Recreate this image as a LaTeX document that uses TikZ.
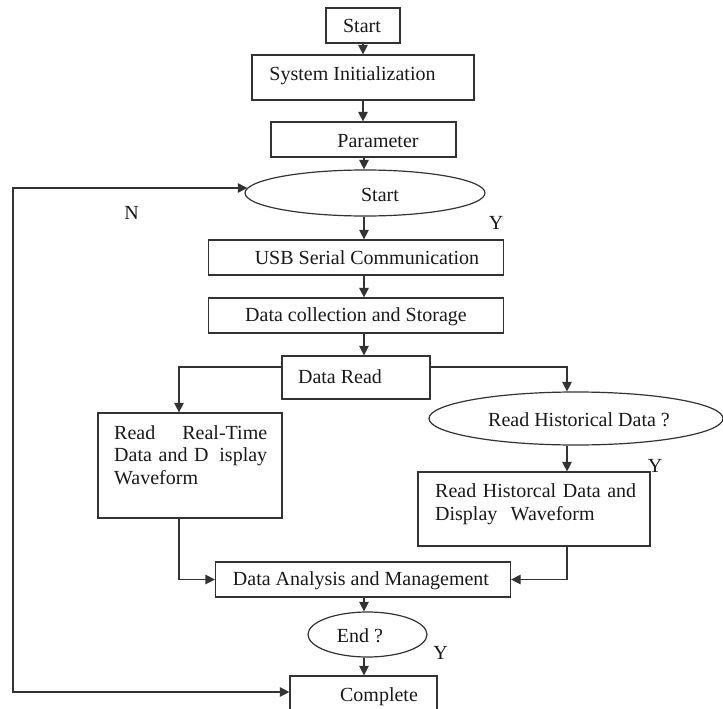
\documentclass[tikz,border=0pt]{standalone}
\usepackage{fontspec}
\setmainfont{Liberation Serif}
\usetikzlibrary{shapes.geometric,arrows.meta}
\begin{document}
\begin{tikzpicture}[x=1pt,y=-1pt,
  box/.style={draw=black!80, line width=1.2pt, inner sep=0pt},
  oval/.style={ellipse, draw=black!80, line width=1.2pt, inner sep=0pt},
  txt/.style={inner sep=0pt, font=\fontsize{20}{22.5}\selectfont, text=black!90},
  tip/.style={-{Triangle[length=9.5pt,width=9.5pt]}},
  conn/.style={line width=1.2pt, draw=black!80, tip}]
\path[use as bounding box] (0,0) rectangle (723,709);
\clip (0,0) rectangle (723,709);

% boxes and ellipses
\node[box, minimum width=74, minimum height=35] (start) at (363,25.5) {};
\node[box, minimum width=222, minimum height=45] (init) at (363,77.5) {};
\node[box, minimum width=185, minimum height=35] (param) at (363.5,139.5) {};
\node[oval, minimum width=240, minimum height=46] (start2) at (365,193) {};
\node[box, minimum width=295, minimum height=35] (usb) at (356,257.5) {};
\node[box, minimum width=295, minimum height=35] (coll) at (356,315.5) {};
\node[box, minimum width=148, minimum height=43] (read) at (356,377.5) {};
\node[box, minimum width=184, minimum height=105] (rt) at (190,465.5) {};
\node[oval, minimum width=294, minimum height=53] (hist) at (576,418.5) {};
\node[box, minimum width=232, minimum height=74] (hb) at (534,509) {};
\node[box, minimum width=295, minimum height=35] (ana) at (363,579.5) {};
\node[oval, minimum width=119, minimum height=45] (endq) at (367.5,634.5) {};
\node[box, minimum width=147, minimum height=44] (done) at (363.5,698) {};

% texts
\node[txt] (startT) at (362,26) {Start};
\node[txt] (initT) at (352.5,76) {System Initialization};
\node[txt] (paramT) at (378,141) {Parameter};
\node[txt] (start2T) at (380,195) {Start};
\node[txt] (usbT) at (367,258) {USB Serial Communication};
\node[txt] (collT) at (356,317) {Data collection and Storage};
\node[txt] (readT) at (340,376.5) {Data Read};
\node[txt, text width=153, align=left, anchor=north west] (rtT) at (114,425)
  {Read\hfill Real-Time\\Data and D\hfill isplay\\Waveform};
\node[txt] (histT) at (579,419.5) {Read Historical Data ?};
\node[txt, text width=215, align=left, anchor=north west] (hbT) at (435,483.5)
  {Read Historcal Data and\\Display\ \ Waveform};
\node[txt] (anaT) at (361,580.5) {Data Analysis and Management};
\node[txt] (endT) at (360,635.5) {End ?};
\node[txt] (doneT) at (379,697) {Complete};

\node[txt] (labN) at (131.5,212.5) {N};
\node[txt] (labY1) at (496,223) {Y};
\node[txt] (labY2) at (655,466) {Y};
\node[txt] (labY3) at (440.5,653) {Y};

% connectors
\draw[conn] (start.south) -- (start.south |- init.north);
\draw[conn] (init.south) -- (init.south |- param.north);
\draw[conn] (param.south -| 364,0) -- (start2.north -| 364,0);
\draw[conn] (start2.south -| 364,0) -- (usb.north -| 364,0);
\draw[conn] (usb.south -| 364,0) -- (coll.north -| 364,0);
\draw[conn] (coll.south -| 364,0) -- (read.north -| 364,0);
\draw[conn] ([yshift=10.5pt]read.west) -| ([xshift=-11pt]rt.north);
\draw[conn] ([yshift=10.5pt]read.east) -| (hist.north -| 567,0);
\draw[conn] (hist.south -| 567,0) -- (hb.north -| 567,0);
\draw[conn] ([xshift=-11pt]rt.south) |- (ana.west);
\draw[conn] (hb.south -| 567,0) |- (ana.east);
\draw[conn] (ana.south -| 364,0) -- (endq.north -| 364,0);
\draw[conn] (endq.south -| 364,0) -- (done.north -| 364,0);
\coordinate (fbT) at (13,188);
\draw[line width=1.2pt, draw=black!80, {Triangle[length=9.5pt,width=9.5pt]}-{Triangle[length=9.5pt,width=9.5pt]}]
  ([yshift=6pt]done.west) -| (fbT) -- ([shift={(2.9pt,5pt)}]start2.west);
\end{tikzpicture}
\end{document}
